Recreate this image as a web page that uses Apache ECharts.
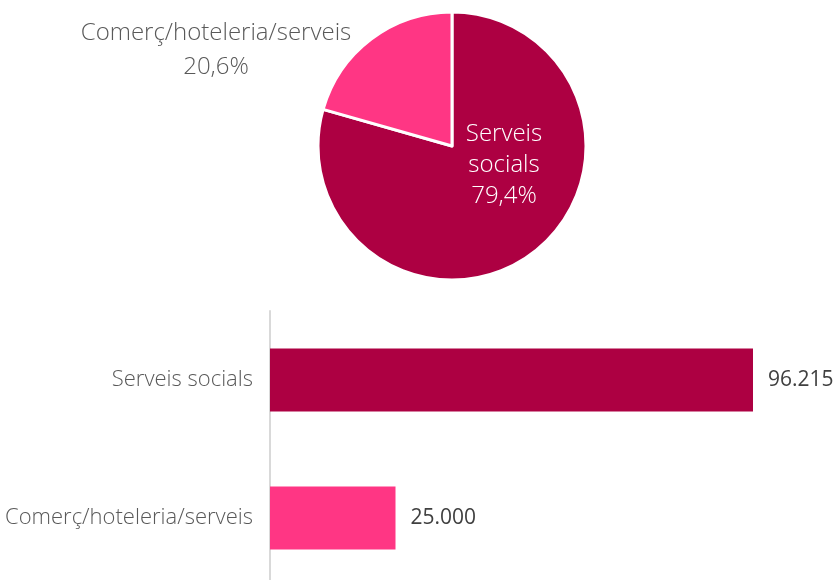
<!DOCTYPE html>
<html><head><meta charset="utf-8">
<script src="https://cdn.jsdelivr.net/npm/echarts@6/dist/echarts.min.js"></script>
<style>html,body{margin:0;padding:0;background:#fff}#c{width:837px;height:580px}</style>
</head><body><div id="c"></div>
<script>
const categories = ['Serveis socials', 'Comerç/hoteleria/serveis'];
const values = [96215, 25000];
const pieShares = [79.4, 20.6];
const colors = ['#AD0042', '#FF3684'];

const fmtNum = v => v.toLocaleString('de-DE');
const fmtPct = v => v.toFixed(1).replace('.', ',') + '%';
const font = '"Open Sans", "Segoe UI", sans-serif';

const chart = echarts.init(document.getElementById('c'), null, {renderer: 'canvas'});
chart.setOption({
  animation: false,
  grid: {left: 270, width: 502, top: 311, height: 276, containLabel: false, outerBoundsMode: 'none'},
  xAxis: {type: 'value', min: 0, max: 100000, show: false},
  yAxis: {
    type: 'category', data: categories, inverse: true,
    axisLine: {show: true, lineStyle: {color: '#D9D9D9', width: 2}},
    axisTick: {show: false},
    axisLabel: {color: '#595959', fontSize: 22, fontFamily: font, fontWeight: 300, margin: 17}
  },
  series: [
    {
      type: 'bar', barWidth: 63,
      data: values.map((v, i) => ({value: v, itemStyle: {color: colors[i]}})),
      label: {show: true, position: 'right', distance: 15, color: '#404040', fontSize: 21, fontFamily: font,
        formatter: p => fmtNum(p.value)}
    },
    {
      type: 'pie', center: [452, 146], radius: 134, startAngle: 90, clockwise: true,
      itemStyle: {borderColor: '#fff', borderWidth: 3},
      labelLine: {show: false},
      data: categories.map((c, i) => ({
        name: c, value: pieShares[i], itemStyle: {color: colors[i]},
        label: i === 0
          ? {show: true, position: 'inside', color: '#fff', fontSize: 24, lineHeight: 31, fontFamily: font, fontWeight: 300,
             formatter: 'Serveis\nsocials\n' + fmtPct(pieShares[i])}
          : {show: true, position: 'outside', color: '#595959', fontSize: 24, lineHeight: 34, fontFamily: font, fontWeight: 300,
             formatter: c + '\n' + fmtPct(pieShares[i])}
      })),
      labelLayout: p => p.dataIndex === 0
        ? {x: 504, y: 165, align: 'center', verticalAlign: 'middle'}
        : {x: 216, y: 50, align: 'center', verticalAlign: 'middle'}
    }
  ]
});
</script></body></html>
